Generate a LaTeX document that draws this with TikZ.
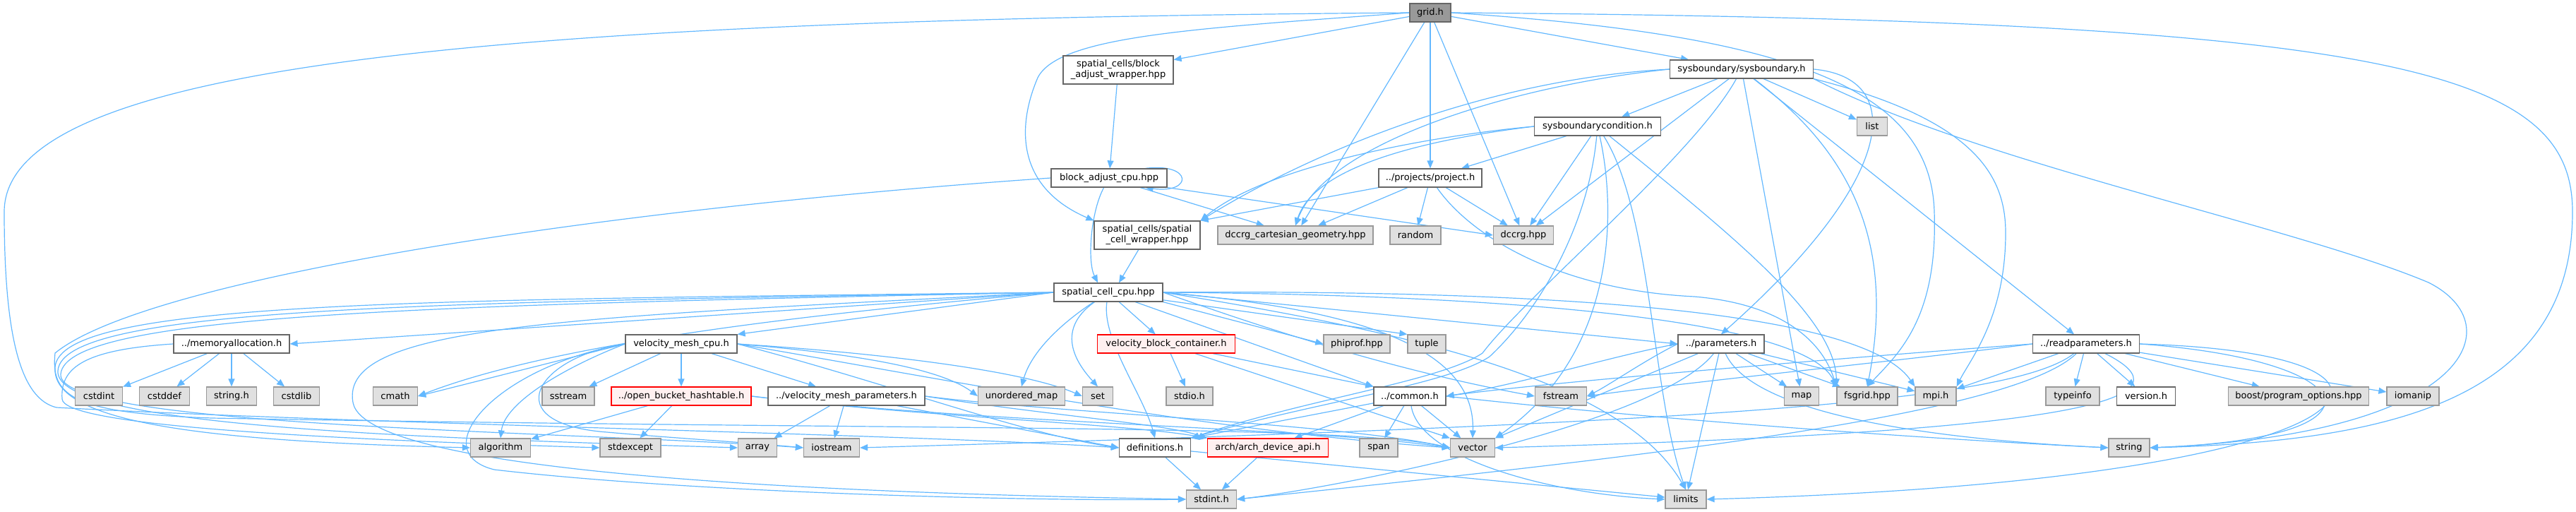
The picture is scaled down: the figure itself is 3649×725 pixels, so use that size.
\documentclass[tikz,border=0pt]{standalone}
\usepackage{fontspec}
\setmainfont{DejaVu Sans}
\usetikzlibrary{arrows.meta}
\definecolor{edgeblue}{HTML}{63B8FF}
\definecolor{boxdark}{HTML}{666666}
\definecolor{boxlight}{HTML}{999999}
\definecolor{boxfill}{HTML}{E0E0E0}
\definecolor{redfill}{HTML}{FFF0F0}
\pgfdeclarelayer{background}
\pgfsetlayers{background,main}
\begin{document}
\begin{tikzpicture}[x=1pt, y=-1pt,
  wbox/.style={rectangle, draw=boxdark, fill=white, line width=1.2pt, inner sep=0pt, minimum height=26pt, font=\fontsize{13}{15}\selectfont, align=center},
  gbox/.style={wbox, draw=boxlight, fill=boxfill},
  rbox/.style={wbox, draw=red, fill=redfill},
  incl/.style={draw=edgeblue, line width=1.2pt, -{Triangle[length=11pt,width=9pt]}}]
\useasboundingbox (0,0) rectangle (3649,725);

% Files, row by row
\node[wbox, fill=boxlight, minimum width=58pt] (grid) at (2026,18) {grid.h};
\node[wbox, minimum width=156pt, minimum height=40pt] (blockwrap) at (1584,99) {spatial\_cells/block\\\_adjust\_wrapper.hpp};
\node[wbox, minimum width=203pt] (sysbnd) at (2467,98) {sysboundary/sysboundary.h};
\node[wbox, minimum width=179pt] (sysbcond) at (2263,179) {sysboundarycondition.h};
\node[gbox, minimum width=43pt] (list) at (2652,179) {list};
\node[wbox, minimum width=164pt] (blockcpu) at (1571,252) {block\_adjust\_cpu.hpp};
\node[wbox, minimum width=146pt] (project) at (2026,252) {../projects/project.h};
\node[wbox, minimum width=150pt, minimum height=40pt] (cellwrap) at (1625,333) {spatial\_cells/spatial\\\_cell\_wrapper.hpp};
\node[gbox, minimum width=220pt] (cartgeom) at (1835,333) {dccrg\_cartesian\_geometry.hpp};
\node[gbox, minimum width=72pt] (random) at (2005,333) {random};
\node[gbox, minimum width=85pt] (dccrg) at (2158,333) {dccrg.hpp};
\node[wbox, minimum width=154pt] (cellcpu) at (1570,414) {spatial\_cell\_cpu.hpp};

\node[wbox, minimum width=164pt] (memalloc) at (328,487) {../memoryallocation.h};
\node[wbox, minimum width=158pt] (meshcpu) at (965,487) {velocity\_mesh\_cpu.h};
\node[rbox, minimum width=195pt] (blockcont) at (1652,487) {velocity\_block\_container.h};
\node[gbox, minimum width=94pt] (phiprof) at (1922,487) {phiprof.hpp};
\node[gbox, minimum width=54pt] (tuple) at (2021,487) {tuple};
\node[wbox, minimum width=122pt] (params) at (2438,487) {../parameters.h};
\node[wbox, minimum width=151pt] (readparams) at (2955,487) {../readparameters.h};

\node[gbox, minimum width=67pt] (cstdint) at (140,561) {cstdint};
\node[gbox, minimum width=71pt] (cstddef) at (233,561) {cstddef};
\node[gbox, minimum width=71pt] (stringh) at (328,561) {string.h};
\node[gbox, minimum width=65pt] (cstdlib) at (420,561) {cstdlib};
\node[gbox, minimum width=63pt] (cmath) at (560,561) {cmath};
\node[gbox, minimum width=74pt] (sstream) at (805,561) {sstream};
\node[rbox, minimum width=198pt] (hashtable) at (965,561) {../open\_bucket\_hashtable.h};
\node[wbox, minimum width=222pt] (meshparams) at (1199,561) {../velocity\_mesh\_parameters.h};
\node[gbox, minimum width=123pt] (umap) at (1447,561) {unordered\_map};
\node[gbox, minimum width=43pt] (set) at (1555,561) {set};
\node[gbox, minimum width=66pt] (stdio) at (1685,561) {stdio.h};
\node[wbox, minimum width=102pt] (common) at (1997,561) {../common.h};
\node[gbox, minimum width=73pt] (fstream) at (2211,561) {fstream};
\node[gbox, minimum width=49pt] (map) at (2552,561) {map};
\node[gbox, minimum width=86pt] (fsgrid) at (2645,561) {fsgrid.hpp};
\node[gbox, minimum width=58pt] (mpi) at (2742,561) {mpi.h};
\node[gbox, minimum width=76pt] (typeinfo) at (2936,561) {typeinfo};
\node[wbox, minimum width=83pt] (version) at (3040,561) {version.h};
\node[gbox, minimum width=199pt] (boost) at (3256,561) {boost/program\_options.hpp};
\node[gbox, minimum width=74pt] (iomanip) at (3418,561) {iomanip};

\node[gbox, minimum width=85pt] (algorithm) at (709,634) {algorithm};
\node[gbox, minimum width=86pt] (stdexcept) at (893,634) {stdexcept};
\node[gbox, minimum width=55pt] (array) at (1073,634) {array};
\node[gbox, minimum width=79pt] (iostream) at (1178,634) {iostream};
\node[wbox, minimum width=101pt] (defs) at (1636,634) {definitions.h};
\node[rbox, minimum width=171pt] (arch) at (1796,634) {arch/arch\_device\_api.h};
\node[gbox, minimum width=54pt] (span) at (1953,634) {span};
\node[gbox, minimum width=63pt] (vector) at (2086,634) {vector};
\node[gbox, minimum width=58pt] (string) at (3016,634) {string};

\node[gbox, minimum width=71pt] (stdint) at (1716,707) {stdint.h};
\node[gbox, minimum width=58pt] (limits) at (2388,707) {limits};

\begin{pgfonlayer}{background}
% grid.h
\draw[incl] (grid) -- (blockwrap);
\draw[incl] (grid.west) .. controls (1700,40) and (1500,50) .. (1470,110) .. controls (1440,180) and (1440,265) .. (cellwrap.north west);
\draw[incl] (grid) -- (cartgeom);
\draw[incl] (grid) -- (project);
\draw[incl] (grid) -- (dccrg);
\draw[incl] (grid) -- (sysbnd);
\draw[incl] (grid.east) .. controls (2550,50) and (2735,130) .. (2740,300) .. controls (2745,450) and (2690,500) .. (fsgrid.north);
\draw[incl] (grid.east) .. controls (3400,28) and (3644,100) .. (3644,300) .. controls (3644,560) and (3400,625) .. (string.east);
\draw[incl] (grid.west) .. controls (700,28) and (6,90) .. (6,300) .. controls (6,480) and (30,565) .. (80,577) .. controls (500,600) and (1300,615) .. (defs.west);

% sysboundary.h
\draw[incl] (sysbnd) -- (sysbcond);
\draw[incl] (sysbnd) -- (list);
\draw[incl] (sysbnd.west) .. controls (2100,112) and (1850,220) .. (cellwrap.north east);
\draw[incl] (sysbnd.west) .. controls (2150,120) and (1880,200) .. (cartgeom.north);
\draw[incl] (sysbnd) -- (dccrg);
\draw[incl] (sysbnd) .. controls (2400,220) and (2160,420) .. (2100,500) .. controls (2040,540) and (1850,565) .. (defs.north east);
\draw[incl] (sysbnd) -- (map);
\draw[incl] (sysbnd) -- (readparams);
\draw[incl] (sysbnd) .. controls (2600,200) and (2690,320) .. (fsgrid.north);
\draw[incl] (sysbnd.south east) .. controls (2800,170) and (2841,250) .. (2841,330) .. controls (2841,450) and (2790,510) .. (mpi.north east);
\draw[incl] (sysbnd.east) .. controls (2700,110) and (2690,250) .. (params.north);
\draw[incl] (sysbnd.south east) .. controls (2800,230) and (3250,320) .. (3440,400) .. controls (3560,460) and (3500,615) .. (string.east);

% sysboundarycondition.h
\draw[incl] (sysbcond) -- (project);
\draw[incl] (sysbcond) -- (dccrg);
\draw[incl] (sysbcond.west) .. controls (2050,190) and (1800,230) .. (cellwrap.north east);
\draw[incl] (sysbcond.west) .. controls (2000,200) and (1860,240) .. (cartgeom.north);
\draw[incl] (sysbcond) .. controls (2250,320) and (2180,440) .. (2110,505) .. controls (2050,545) and (1860,570) .. (defs.north east);
\draw[incl] (sysbcond) .. controls (2290,300) and (2290,500) .. (vector.north east);
\draw[incl] (sysbcond) .. controls (2340,300) and (2340,560) .. (limits.north);
\draw[incl] (sysbcond) .. controls (2450,330) and (2600,450) .. (fsgrid.north west);

% block adjust
\draw[incl] (blockwrap) -- (blockcpu);
\draw[incl] ([xshift=-31pt]blockcpu.north east) .. controls (1690,230) and (1690,275) .. ([xshift=-31pt]blockcpu.south east);
\draw[incl] (blockcpu) .. controls (1545,300) and (1540,370) .. ([xshift=-15pt]cellcpu.north);
\draw[incl] (blockcpu) -- (cartgeom);
\draw[incl] (blockcpu.south east) -- (dccrg.west);
\draw[incl] (blockcpu.west) .. controls (800,300) and (200,400) .. (78,500) .. controls (72,560) and (100,585) .. (300,592) .. controls (1300,610) and (1900,600) .. (vector.west);

% project.h
\draw[incl] (project) -- (cellwrap.north east);
\draw[incl] (project) -- (cartgeom);
\draw[incl] (project) -- (random);
\draw[incl] (project) -- (dccrg);
\draw[incl] (project) .. controls (2080,330) and (2200,410) .. (2400,420) .. controls (2520,430) and (2580,480) .. (fsgrid.north west);

% spatial cell
\draw[incl] (cellwrap) -- ([xshift=15pt]cellcpu.north);
\draw[incl] (cellcpu.west) -- (memalloc.east);
\draw[incl] (cellcpu.west) -- (meshcpu.north east);
\draw[incl] (cellcpu.west) .. controls (1200,440) and (800,480) .. (cmath.east);
\draw[incl] (cellcpu.west) .. controls (600,425) and (85,425) .. (78,520) .. controls (72,600) and (300,625) .. (algorithm.west);
\draw[incl] (cellcpu.west) .. controls (600,428) and (88,435) .. (82,525) .. controls (76,605) and (600,620) .. (array.west);
\draw[incl] (cellcpu.west) .. controls (600,432) and (92,445) .. (86,530) .. controls (80,605) and (800,610) .. (iostream.west);
\draw[incl] (cellcpu.west) .. controls (800,450) and (480,460) .. (500,570) .. controls (520,680) and (1300,700) .. (stdint.west);
\draw[incl] (cellcpu) .. controls (1500,460) and (1460,500) .. (umap.north);
\draw[incl] (cellcpu) .. controls (1490,470) and (1530,520) .. (set.north);
\draw[incl] (cellcpu) -- (blockcont);
\draw[incl] (cellcpu) .. controls (1560,480) and (1620,560) .. (defs.north);
\draw[incl] (cellcpu.south east) -- (phiprof.west);
\draw[incl] (cellcpu) -- (tuple.north west);
\draw[incl] (cellcpu) -- (common.north west);
\draw[incl] (cellcpu.east) .. controls (1950,440) and (2090,500) .. (vector.north);
\draw[incl] (cellcpu.east) .. controls (1750,450) and (1950,520) .. (fstream.west);
\draw[incl] (cellcpu.east) .. controls (2000,470) and (2300,540) .. (limits.north);
\draw[incl] (cellcpu.east) -- (params.west);
\draw[incl] (cellcpu.east) .. controls (2200,410) and (2640,440) .. (mpi.north west);
\draw[incl] (cellcpu.east) .. controls (2200,418) and (2560,460) .. (fsgrid.north west);

% memoryallocation.h
\draw[incl] (memalloc) -- (cstdint);
\draw[incl] (memalloc) -- (cstddef);
\draw[incl] (memalloc) -- (stringh);
\draw[incl] (memalloc) -- (cstdlib);
\draw[incl] (memalloc.west) .. controls (120,495) and (85,520) .. (88,565) .. controls (90,600) and (400,620) .. (stdexcept.west);

% velocity_mesh_cpu.h
\draw[incl] (meshcpu) -- (sstream);
\draw[incl] (meshcpu) -- (hashtable);
\draw[incl] (meshcpu) -- (meshparams);
\draw[incl] (meshcpu.west) -- (cmath.east);
\draw[incl] (meshcpu.west) .. controls (800,520) and (715,570) .. (algorithm.north);
\draw[incl] (meshcpu.west) .. controls (760,505) and (700,600) .. (860,612) .. controls (950,620) and (1050,626) .. (iostream.west);
\draw[incl] (meshcpu.west) .. controls (700,520) and (600,640) .. (700,665) .. controls (1000,700) and (1500,710) .. (stdint.west);
\draw[incl] (meshcpu.east) .. controls (1200,500) and (1330,520) .. (umap.west);
\draw[incl] (meshcpu.east) .. controls (1250,500) and (1450,525) .. (set.west);
\draw[incl] (meshcpu.east) .. controls (1250,540) and (1450,615) .. (defs.west);
\draw[incl] (meshcpu.east) .. controls (1300,530) and (1700,610) .. (vector.west);

% open_bucket_hashtable.h
\draw[incl] (hashtable) -- (algorithm);
\draw[incl] (hashtable) -- (stdexcept);
\draw[incl] (hashtable.east) .. controls (1300,590) and (1600,600) .. (arch.north west);
\draw[incl] (hashtable.east) .. controls (1400,600) and (1850,605) .. (vector.west);

% velocity_mesh_parameters.h
\draw[incl] (meshparams) -- (array);
\draw[incl] (meshparams) -- (iostream);
\draw[incl] (meshparams) -- (defs.west);
\draw[incl] (meshparams.east) .. controls (1500,590) and (1650,600) .. (arch.north west);
\draw[incl] (meshparams.east) .. controls (1500,585) and (1900,600) .. (vector.west);

% velocity_block_container.h
\draw[incl] (blockcont) -- (stdio);
\draw[incl] (blockcont) -- (common.north west);
\draw[incl] (blockcont) -- (vector.north west);

% common.h
\draw[incl] (common) -- (defs.north east);
\draw[incl] (common) -- (arch);
\draw[incl] (common) -- (span);
\draw[incl] (common) -- (vector);
\draw[incl] (common) .. controls (2010,650) and (2200,700) .. (limits.west);
\draw[incl] (common.east) .. controls (2400,600) and (2800,625) .. (string.west);

% parameters.h
\draw[incl] (params.west) .. controls (2300,500) and (2150,545) .. (common.east);
\draw[incl] (params.west) .. controls (2330,510) and (2280,545) .. (fstream.east);
\draw[incl] (params) -- (map);
\draw[incl] (params) -- (fsgrid);
\draw[incl] (params) -- (mpi);
\draw[incl] (params) -- (limits);
\draw[incl] (params) .. controls (2480,580) and (2700,620) .. (string.west);
\draw[incl] (params) -- (vector.north east);
\draw[incl] (params) .. controls (2350,600) and (1900,690) .. (stdint.east);

% readparameters.h
\draw[incl] (readparams) -- (mpi);
\draw[incl] (readparams) -- (typeinfo);
\draw[incl] (readparams) -- (version);
\draw[incl] (readparams) -- (boost);
\draw[incl] (readparams) -- (iomanip);
\draw[incl] (readparams.east) .. controls (3350,510) and (3400,620) .. (string.east);
\draw[incl] (readparams.east) .. controls (3500,500) and (3400,680) .. (limits.east);
\draw[incl] (readparams) .. controls (3100,560) and (3000,610) .. (vector.east);
\draw[incl] (readparams.west) .. controls (2700,510) and (2400,540) .. (fstream.east);
\draw[incl] (readparams.west) .. controls (2700,500) and (2200,540) .. (common.east);
\draw[incl] (readparams) .. controls (2850,570) and (2400,600) .. (iostream.east);
\draw[incl] (readparams) .. controls (2850,590) and (2300,650) .. (stdint.east);

% definitions.h and arch
\draw[incl] (defs) -- (stdint);
\draw[incl] (defs) -- (limits);
\draw[incl] (arch) -- (stdint);
\end{pgfonlayer}
\end{tikzpicture}
\end{document}
